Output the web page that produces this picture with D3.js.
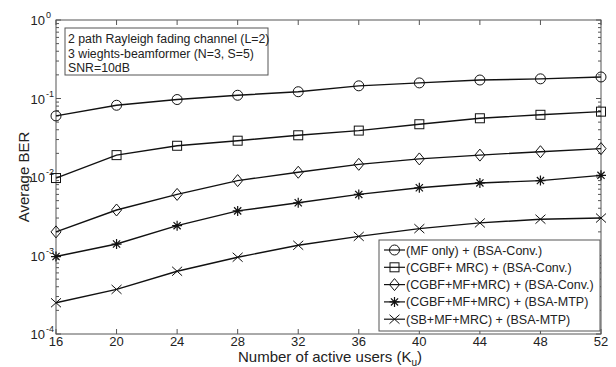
<!DOCTYPE html>
<html><head><meta charset="utf-8">
<script src="https://cdn.jsdelivr.net/npm/d3@7"></script>
<style>body{margin:0;background:#fff;} text{font-family:"Liberation Sans",Arial,sans-serif;fill:#222;}</style>
</head><body>
<svg id="c" width="616" height="367"></svg>
<script>
const users = [16, 20, 24, 28, 32, 36, 40, 44, 48, 52];
const mfOnly   = [0.06, 0.082, 0.097, 0.11, 0.122, 0.145, 0.158, 0.172, 0.178, 0.188];
const cgbfMrc  = [0.0097, 0.019, 0.025, 0.029, 0.034, 0.039, 0.047, 0.056, 0.062, 0.068];
const cgbfMfMrc = [0.002, 0.0038, 0.006, 0.009, 0.0115, 0.0145, 0.017, 0.019, 0.021, 0.023];
const cgbfMtp  = [0.00097, 0.0014, 0.0024, 0.0037, 0.0047, 0.006, 0.0073, 0.0084, 0.009, 0.0105];
const sbMtp    = [0.00025, 0.00037, 0.00063, 0.00095, 0.00135, 0.00175, 0.0022, 0.0026, 0.0029, 0.003];
const seriesNames = ["(MF only) + (BSA-Conv.)", "(CGBF+ MRC) + (BSA-Conv.)", "(CGBF+MF+MRC) + (BSA-Conv.)", "(CGBF+MF+MRC) + (BSA-MTP)", "(SB+MF+MRC) + (BSA-MTP)"];
const markers = ["circle", "square", "diamond", "star", "cross"];
const xTicks = [16, 20, 24, 28, 32, 36, 40, 44, 48, 52];
const yExps = [0, -1, -2, -3, -4];
const noteLines = ["2 path Rayleigh fading channel (L=2)", "3 wieghts-beamformer (N=3, S=5)", "SNR=10dB"];

const series = [mfOnly, cgbfMrc, cgbfMfMrc, cgbfMtp, sbMtp];
const svg = d3.select("#c");
const L = 56, R = 601, T = 20, B = 334;
const x = d3.scaleLinear().domain([16, 52]).range([L, R]);
const y = d3.scaleLog().domain([1e-4, 1]).range([B, T]);
const axisCol = "#555";

svg.append("rect").attr("x", L).attr("y", T).attr("width", R - L).attr("height", B - T)
  .attr("fill", "none").attr("stroke", axisCol).attr("stroke-width", 1);

const g = svg.append("g");
xTicks.forEach(t => {
  g.append("line").attr("x1", x(t)).attr("x2", x(t)).attr("y1", B).attr("y2", B - 5).attr("stroke", axisCol);
  g.append("line").attr("x1", x(t)).attr("x2", x(t)).attr("y1", T).attr("y2", T + 5).attr("stroke", axisCol);
  g.append("text").attr("x", x(t)).attr("y", 346).attr("text-anchor", "middle").attr("font-size", 13).text(t);
});
for (let e = -4; e <= 0; e++) {
  const v = Math.pow(10, e);
  g.append("line").attr("x1", L).attr("x2", L + 5).attr("y1", y(v)).attr("y2", y(v)).attr("stroke", axisCol);
  g.append("line").attr("x1", R).attr("x2", R - 5).attr("y1", y(v)).attr("y2", y(v)).attr("stroke", axisCol);
  if (e < 0) {
    for (let k = 2; k <= 9; k++) {
      const mv = k * v;
      g.append("line").attr("x1", L).attr("x2", L + 3).attr("y1", y(mv)).attr("y2", y(mv)).attr("stroke", axisCol);
      g.append("line").attr("x1", R).attr("x2", R - 3).attr("y1", y(mv)).attr("y2", y(mv)).attr("stroke", axisCol);
    }
  }
}
yExps.forEach(e => {
  g.append("text").attr("x", 45).attr("y", y(Math.pow(10, e)) + 5).attr("text-anchor", "end").attr("font-size", 13).text("10");
  g.append("text").attr("x", 46).attr("y", y(Math.pow(10, e)) - 2).attr("font-size", 9).text(e);
});

svg.append("text").attr("transform", "translate(29,177) rotate(-90)").attr("text-anchor", "middle")
  .attr("font-size", 15).text("Average BER");
const xt = svg.append("text").attr("x", 330).attr("y", 362).attr("text-anchor", "middle").attr("font-size", 15);
xt.append("tspan").text("Number of active users (K");
xt.append("tspan").attr("font-size", 10).attr("dy", 4).text("u");
xt.append("tspan").attr("dy", -4).text(")");

function drawMarker(sel, type, cx, cy) {
  const s = sel.append("g").attr("transform", `translate(${cx},${cy})`)
    .attr("fill", "none").attr("stroke", "#111").attr("stroke-width", 1);
  if (type === "circle") s.append("circle").attr("r", 5);
  else if (type === "square") s.append("rect").attr("x", -4.5).attr("y", -4.5).attr("width", 9).attr("height", 9);
  else if (type === "diamond") s.append("path").attr("d", "M0,-6L5,0L0,6L-5,0Z");
  else if (type === "star") {
    s.append("path").attr("d", "M-5,0H5M0,-5V5M-3.6,-3.6L3.6,3.6M-3.6,3.6L3.6,-3.6").attr("stroke-width", 1.2);
  } else if (type === "cross") s.append("path").attr("d", "M-5,-4.5L5,4.5M-5,4.5L5,-4.5");
}

const line = d3.line().x((d, i) => x(users[i])).y(d => y(d));
series.forEach((s, si) => {
  svg.append("path").datum(s).attr("d", line).attr("fill", "none").attr("stroke", "#111").attr("stroke-width", 1.4);
  s.forEach((v, i) => drawMarker(svg, markers[si], x(users[i]), y(v)));
});

const nb = svg.append("g");
nb.append("rect").attr("x", 65).attr("y", 28).attr("width", 203).attr("height", 47).attr("fill", "#fff").attr("stroke", axisCol);
noteLines.forEach((t, i) => nb.append("text").attr("x", 68).attr("y", 43 + i * 14.5).attr("font-size", 12.3).text(t));

const lg = svg.append("g");
lg.append("rect").attr("x", 379).attr("y", 240).attr("width", 221).attr("height", 91).attr("fill", "#fff").attr("stroke", axisCol);
seriesNames.forEach((n, i) => {
  const ly = 250 + i * 17.3;
  lg.append("line").attr("x1", 384).attr("x2", 405).attr("y1", ly).attr("y2", ly).attr("stroke", "#111").attr("stroke-width", 1.2);
  drawMarker(lg, markers[i], 394.5, ly);
  lg.append("text").attr("x", 406).attr("y", ly + 4.5).attr("font-size", 12.5).text(n);
});
</script>
</body></html>
